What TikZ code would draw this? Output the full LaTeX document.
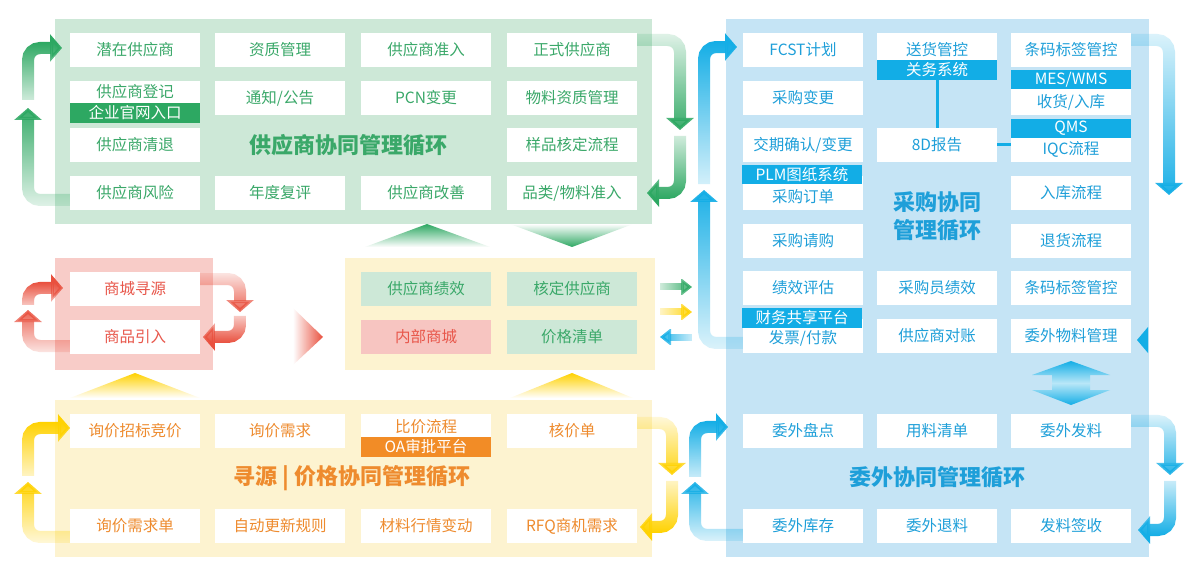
\documentclass[tikz,border=0pt]{standalone}
\usepackage{fontspec}
\setmainfont{Noto Sans CJK SC}
\usetikzlibrary{arrows.meta,fadings}
\tikzfading[name=fN, top color=transparent!0, bottom color=transparent!85]
\tikzfading[name=fS, top color=transparent!85, bottom color=transparent!0]
\tikzfading[name=fE, left color=transparent!85, right color=transparent!0]
\tikzfading[name=fW, left color=transparent!0, right color=transparent!85]
\tikzfading[name=tN, top color=transparent!0, bottom color=transparent!100]
\tikzfading[name=tS, top color=transparent!100, bottom color=transparent!0]
\tikzfading[name=tE, left color=transparent!100, right color=transparent!0]
\definecolor{gpan}{HTML}{CDE8D7}
\definecolor{gtx}{HTML}{3AA869}
\definecolor{gar}{HTML}{2DA862}
\definecolor{ppan}{HTML}{F8CCC8}
\definecolor{pbox}{HTML}{F7C5C1}
\definecolor{rtx}{HTML}{E8574B}
\definecolor{rar}{HTML}{E9503E}
\definecolor{ypan}{HTML}{FDF3D0}
\definecolor{otx}{HTML}{EE8B2E}
\definecolor{otag}{HTML}{F28C26}
\definecolor{yar}{HTML}{FFD200}
\definecolor{bpan}{HTML}{C5E4F5}
\definecolor{btx}{HTML}{1E9FD9}
\definecolor{btag}{HTML}{12ADE6}
\definecolor{bar}{HTML}{14AEE6}
\tikzset{
  bx/.style={rectangle, inner sep=0pt, minimum width=130pt, minimum height=34pt, fill=white, font=\fontsize{15.5}{18}\selectfont},
  gb/.style={bx, text=gtx},
  rb/.style={bx, text=rtx},
  yb/.style={bx, text=otx},
  bb/.style={bx, minimum width=120pt, text=btx},
  txt/.style={inner sep=0pt, font=\fontsize{15.5}{18}\selectfont},
  tagg/.style={rectangle, inner sep=0pt, minimum width=130pt, minimum height=20pt, text=white, font=\fontsize{15.5}{18}\selectfont},
  lp/.style={line width=12pt, rounded corners=12pt, -{Triangle[width=27pt,length=12pt]}},
  sa/.style={line width=7pt, -{Triangle[width=17pt,length=11pt]}},
  ttl/.style={inner sep=0pt, font=\fontsize{22}{28}\selectfont\bfseries, align=center},
  blink/.style={draw=btag, line width=3pt},
}
\begin{document}
\begin{tikzpicture}[x=1pt,y=-1pt]
\useasboundingbox (0,0) rectangle (1195,580);
\fill[white] (0,0) rectangle (1195,580);
% panels
\fill[gpan] (55,19) rectangle (652,224);
\fill[ppan] (55,258) rectangle (213,370);
\fill[ypan] (345,258) rectangle (655,370);
\fill[ypan] (55,400) rectangle (652,557);
\fill[bpan] (726,19) rectangle (1149,557);

% green boxes
\node[gb] (g11) at (135,50) {潜在供应商};
\node[gb] (g12) at (280,50) {资质管理};
\node[gb] (g13) at (426,50) {供应商准入};
\node[gb] (g14) at (572,50) {正式供应商};
\node[gb] (g21) at (135,98) {};
\node[gb] (g22) at (280,98) {通知/公告};
\node[gb] (g23) at (426,98) {PCN变更};
\node[gb] (g24) at (572,98) {物料资质管理};
\node[gb] (g31) at (135,145) {供应商清退};
\node[gb] (g34) at (572,145) {样品核定流程};
\node[gb] (g41) at (135,193) {供应商风险};
\node[gb] (g42) at (280,193) {年度复评};
\node[gb] (g43) at (426,193) {供应商改善};
\node[gb] (g44) at (572,193) {品类/物料准入};
\node[txt, text=gtx] (g21t) at (135,92) {供应商登记};
\node[tagg, fill=gar] (g21g) at (135,113) {企业官网入口};
\node[ttl, text=gtx] (gtitle) at (348,145) {供应商协同管理循环};

% pink boxes
\node[rb] (p1) at (135,289) {商城寻源};
\node[rb] (p2) at (135,337) {商品引入};

% middle boxes
\node[gb, fill=gpan] (m1) at (426,289) {供应商绩效};
\node[gb, fill=gpan] (m2) at (572,289) {核定供应商};
\node[rb, fill=pbox] (m3) at (426,337) {内部商城};
\node[gb, fill=gpan] (m4) at (572,337) {价格清单};

% yellow boxes
\node[yb] (y1) at (135,431) {询价招标竞价};
\node[yb] (y2) at (280,431) {询价需求};
\node[yb] (y3) at (426,431) {};
\node[yb] (y4) at (572,431) {核价单};
\node[yb] (y5) at (135,526) {询价需求单};
\node[yb] (y6) at (280,526) {自动更新规则};
\node[yb] (y7) at (426,526) {材料行情变动};
\node[yb] (y8) at (572,526) {RFQ商机需求};
\node[txt, text=otx] (y3t) at (426,427) {比价流程};
\node[tagg, fill=otag] (y3g) at (426,447) {OA审批平台};
\node[ttl, text=otx] (ytitle) at (352,478) {寻源 | 价格协同管理循环};

% blue purchase boxes
\node[bb] (b11) at (803,50) {FCST计划};
\node[bb] (b12) at (937,50) {送货管控};
\node[bb] (b13) at (1071,50) {条码标签管控};
\node[bb] (b21) at (803,98) {采购变更};
\node[bb] (b23) at (1071,98) {};
\node[bb] (b31) at (803,145) {交期确认/变更};
\node[bb] (b32) at (937,145) {8D报告};
\node[bb] (b33) at (1071,145) {};
\node[bb] (b41) at (803,193) {};
\node[bb] (b43) at (1071,193) {入库流程};
\node[bb] (b51) at (803,241) {采购请购};
\node[bb] (b53) at (1071,241) {退货流程};
\node[bb] (b61) at (803,288) {绩效评估};
\node[bb] (b62) at (937,288) {采购员绩效};
\node[bb] (b63) at (1071,288) {条码标签管控};
\node[bb] (b71) at (803,336) {};
\node[bb] (b72) at (937,336) {供应商对账};
\node[bb] (b73) at (1071,336) {委外物料管理};
\node[tagg, fill=btag, minimum width=120pt] (b12g) at (937,70) {关务系统};
\node[tagg, fill=btag, minimum width=120pt, minimum height=19pt] (b23g) at (1071,79.5) {MES/WMS};
\node[txt, text=btx] (b23t) at (1071,102) {收货/入库};
\node[tagg, fill=btag, minimum width=120pt, minimum height=19pt] (b33g) at (1071,128.5) {QMS};
\node[txt, text=btx] (b33t) at (1071,149) {IQC流程};
\node[tagg, fill=btag, minimum width=120pt, minimum height=19pt] (b41g) at (802,174.5) {PLM图纸系统};
\node[txt, text=btx] (b41t) at (803,197) {采购订单};
\node[tagg, fill=btag, minimum width=120pt] (b71g) at (802,318) {财务共享平台};
\node[txt, text=btx] (b71t) at (803,338) {发票/付款};
\node[ttl, text=btx] (btitle) at (937,216) {采购协同\\管理循环};
\draw[blink] (b12g.south) -- (b32.north);
\draw[blink] (b32.east) -- (b33.west);

% outsource boxes
\node[bb] (o1) at (803,431) {委外盘点};
\node[bb] (o2) at (937,431) {用料清单};
\node[bb] (o3) at (1071,431) {委外发料};
\node[bb] (o4) at (803,526) {委外库存};
\node[bb] (o5) at (937,526) {委外退料};
\node[bb] (o6) at (1071,526) {发料签收};
\node[ttl, text=btx] (otitle) at (937,477) {委外协同管理循环};

% green loop arrows
\draw[lp, gar, path fading=fN] ([yshift=-7pt]g41.west) -- (28,200) -- (28,108);
\draw[lp, gar, path fading=fN] (28,100) -- (28,48) -- (62,48);
\draw[lp, gar, path fading=fS] ([yshift=10pt]g14.east) -- (680,40) -- (680,130);
\draw[lp, gar, path fading=fS] (680,136) -- (680,193) -- (647,193);
% red loop arrows
\draw[lp, rar, path fading=fS] ([yshift=10pt]p1.east) -- (240,279) -- (240,312);
\draw[lp, rar, path fading=fS] (240,316) -- (240,337) -- (203,337);
\draw[lp, rar, path fading=fN] ([yshift=-9pt]p2.west) -- (28,346) -- (28,310);
\draw[lp, rar, path fading=fN] (28,305) -- (28,288) -- (63,288);
% yellow loop arrows
\draw[lp, yar, path fading=fN] ([yshift=-11pt]y5.west) -- (28,537) -- (28,482);
\draw[lp, yar, path fading=fN] (28,476) -- (28,428) -- (70,428);
\draw[lp, yar, path fading=fS] ([yshift=8pt]y4.east) -- (672,423) -- (672,475);
\draw[lp, yar, path fading=fS] (672,481) -- (672,527) -- (640,527);
% blue loop arrows
\draw[lp, bar, path fading=fN] ([yshift=-7pt]b71.west) -- (704,343) -- (704,190);
\draw[lp, bar, path fading=fN] (704,184) -- (704,47) -- (737,47);
\draw[lp, bar, path fading=fS] ([yshift=10pt]b13.east) -- (1169,40) -- (1169,195);
\draw[lp, bar, path fading=fN] ([yshift=-9pt]o4.west) -- (695,535) -- (695,482);
\draw[lp, bar, path fading=fN] (695,477) -- (695,427) -- (728,427);
\draw[lp, bar, path fading=fS] ([yshift=10pt]o3.east) -- (1170,421) -- (1170,475);
\draw[lp, bar, path fading=fS] (1170,481) -- (1170,530) -- (1138,530);

% triangles
\fill[gar, path fading=tN] (427,224) -- (490,247) -- (365,247) -- cycle;
\fill[gar, path fading=tS] (510,224) -- (633,224) -- (572,247) -- cycle;
\fill[yar, path fading=tN] (135,373) -- (200,398) -- (70,398) -- cycle;
\fill[yar, path fading=tN] (572,373) -- (633,398) -- (510,398) -- cycle;
\fill[rar, path fading=tE] (293,308) -- (323,337) -- (293,365) -- cycle;
\fill[bar] (1148,327) -- (1148,353) -- (1137,340) -- cycle;
\shade[top color=bar, bottom color=bar, middle color=bar!30]
  (1071,361) -- (1110,375) -- (1090,375) -- (1090,390) -- (1110,390) -- (1071,405)
  -- (1032,390) -- (1052,390) -- (1052,375) -- (1032,375) -- cycle;

% small connecting arrows
\draw[sa, gar, path fading=fE] (660,287) -- (692,287);
\draw[sa, yar, path fading=fE] (660,312) -- (692,312);
\draw[sa, bar, path fading=fW] (692,337) -- (660,337);
\end{tikzpicture}
\end{document}
